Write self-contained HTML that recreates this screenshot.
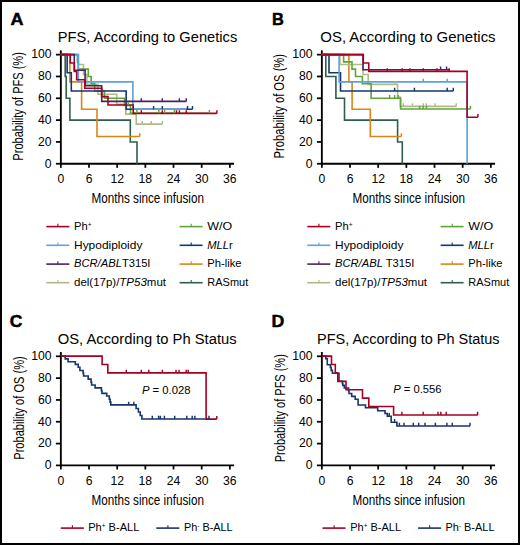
<!DOCTYPE html>
<html><head><meta charset="utf-8"><style>
html,body{margin:0;padding:0;background:#fff;}
svg{display:block;}
text{font-family:"Liberation Sans", sans-serif;}
</style></head><body>
<svg width="520" height="545" viewBox="0 0 520 545">
<rect x="1" y="1" width="518" height="543" fill="#fff" stroke="#000" stroke-width="2"/><text x="10.4" y="25.05" font-size="17.2" text-anchor="start" font-weight="bold" font-style="normal" fill="#000" textLength="13.0" lengthAdjust="spacingAndGlyphs" stroke="#000" stroke-width="0.5">A</text><text x="271.9" y="24.75" font-size="17.2" text-anchor="start" font-weight="bold" font-style="normal" fill="#000" textLength="11.9" lengthAdjust="spacingAndGlyphs" stroke="#000" stroke-width="0.5">B</text><text x="9.8" y="327.1" font-size="17.2" text-anchor="start" font-weight="bold" font-style="normal" fill="#000" textLength="12.6" lengthAdjust="spacingAndGlyphs" stroke="#000" stroke-width="0.5">C</text><text x="271.6" y="326.85" font-size="17.2" text-anchor="start" font-weight="bold" font-style="normal" fill="#000" textLength="12.8" lengthAdjust="spacingAndGlyphs" stroke="#000" stroke-width="0.5">D</text><text x="57.8" y="41.85" font-size="14.9" text-anchor="start" font-weight="normal" font-style="normal" fill="#000" textLength="179.5" lengthAdjust="spacingAndGlyphs" >PFS, According to Genetics</text><text x="320.3" y="41.75" font-size="14.9" text-anchor="start" font-weight="normal" font-style="normal" fill="#000" textLength="175.3" lengthAdjust="spacingAndGlyphs" >OS, According to Genetics</text><text x="57.8" y="344.0" font-size="14.9" text-anchor="start" font-weight="normal" font-style="normal" fill="#000" textLength="178.8" lengthAdjust="spacingAndGlyphs" >OS, According to Ph Status</text><text x="317.0" y="344.0" font-size="14.9" text-anchor="start" font-weight="normal" font-style="normal" fill="#000" textLength="182.6" lengthAdjust="spacingAndGlyphs" >PFS, According to Ph Status</text><path d="M60.85 50.35V164.65" stroke="#000" stroke-width="1.85" fill="none"/><path d="M59.95 163.75H234.05" stroke="#000" stroke-width="1.85" fill="none"/><path d="M55.95 163.75H60.85" stroke="#000" stroke-width="1.75"/><path d="M55.95 141.93H60.85" stroke="#000" stroke-width="1.75"/><path d="M55.95 120.11H60.85" stroke="#000" stroke-width="1.75"/><path d="M55.95 98.29H60.85" stroke="#000" stroke-width="1.75"/><path d="M55.95 76.47H60.85" stroke="#000" stroke-width="1.75"/><path d="M55.95 54.65H60.85" stroke="#000" stroke-width="1.75"/><path d="M60.85 163.75V167.85" stroke="#000" stroke-width="1.75"/><path d="M89.02 163.75V167.85" stroke="#000" stroke-width="1.75"/><path d="M117.18 163.75V167.85" stroke="#000" stroke-width="1.75"/><path d="M145.35 163.75V167.85" stroke="#000" stroke-width="1.75"/><path d="M173.52 163.75V167.85" stroke="#000" stroke-width="1.75"/><path d="M201.68 163.75V167.85" stroke="#000" stroke-width="1.75"/><path d="M229.85 163.75V167.85" stroke="#000" stroke-width="1.75"/><text x="51.650000000000006" y="167.55" font-size="12.2" text-anchor="end" font-weight="normal" font-style="normal" fill="#000" >0</text><text x="51.650000000000006" y="145.73" font-size="12.2" text-anchor="end" font-weight="normal" font-style="normal" fill="#000" >20</text><text x="51.650000000000006" y="123.91" font-size="12.2" text-anchor="end" font-weight="normal" font-style="normal" fill="#000" >40</text><text x="51.650000000000006" y="102.09" font-size="12.2" text-anchor="end" font-weight="normal" font-style="normal" fill="#000" >60</text><text x="51.650000000000006" y="80.27" font-size="12.2" text-anchor="end" font-weight="normal" font-style="normal" fill="#000" >80</text><text x="51.650000000000006" y="58.45" font-size="12.2" text-anchor="end" font-weight="normal" font-style="normal" fill="#000" >100</text><text x="60.85" y="183.35" font-size="12.2" text-anchor="middle" font-weight="normal" font-style="normal" fill="#000" >0</text><text x="89.02" y="183.35" font-size="12.2" text-anchor="middle" font-weight="normal" font-style="normal" fill="#000" >6</text><text x="117.18" y="183.35" font-size="12.2" text-anchor="middle" font-weight="normal" font-style="normal" fill="#000" >12</text><text x="145.35" y="183.35" font-size="12.2" text-anchor="middle" font-weight="normal" font-style="normal" fill="#000" >18</text><text x="173.52" y="183.35" font-size="12.2" text-anchor="middle" font-weight="normal" font-style="normal" fill="#000" >24</text><text x="201.68" y="183.35" font-size="12.2" text-anchor="middle" font-weight="normal" font-style="normal" fill="#000" >30</text><text x="229.85" y="183.35" font-size="12.2" text-anchor="middle" font-weight="normal" font-style="normal" fill="#000" >36</text><text x="91.45" y="203.25" font-size="14.5" text-anchor="start" font-weight="normal" font-style="normal" fill="#000" textLength="112.5" lengthAdjust="spacingAndGlyphs" >Months since infusion</text><path d="M321.85 50.35V164.65" stroke="#000" stroke-width="1.85" fill="none"/><path d="M320.95 163.75H495.05" stroke="#000" stroke-width="1.85" fill="none"/><path d="M316.95 163.75H321.85" stroke="#000" stroke-width="1.75"/><path d="M316.95 141.93H321.85" stroke="#000" stroke-width="1.75"/><path d="M316.95 120.11H321.85" stroke="#000" stroke-width="1.75"/><path d="M316.95 98.29H321.85" stroke="#000" stroke-width="1.75"/><path d="M316.95 76.47H321.85" stroke="#000" stroke-width="1.75"/><path d="M316.95 54.65H321.85" stroke="#000" stroke-width="1.75"/><path d="M321.85 163.75V167.85" stroke="#000" stroke-width="1.75"/><path d="M350.02 163.75V167.85" stroke="#000" stroke-width="1.75"/><path d="M378.18 163.75V167.85" stroke="#000" stroke-width="1.75"/><path d="M406.35 163.75V167.85" stroke="#000" stroke-width="1.75"/><path d="M434.52 163.75V167.85" stroke="#000" stroke-width="1.75"/><path d="M462.68 163.75V167.85" stroke="#000" stroke-width="1.75"/><path d="M490.85 163.75V167.85" stroke="#000" stroke-width="1.75"/><text x="312.65000000000003" y="167.55" font-size="12.2" text-anchor="end" font-weight="normal" font-style="normal" fill="#000" >0</text><text x="312.65000000000003" y="145.73" font-size="12.2" text-anchor="end" font-weight="normal" font-style="normal" fill="#000" >20</text><text x="312.65000000000003" y="123.91" font-size="12.2" text-anchor="end" font-weight="normal" font-style="normal" fill="#000" >40</text><text x="312.65000000000003" y="102.09" font-size="12.2" text-anchor="end" font-weight="normal" font-style="normal" fill="#000" >60</text><text x="312.65000000000003" y="80.27" font-size="12.2" text-anchor="end" font-weight="normal" font-style="normal" fill="#000" >80</text><text x="312.65000000000003" y="58.45" font-size="12.2" text-anchor="end" font-weight="normal" font-style="normal" fill="#000" >100</text><text x="321.85" y="183.35" font-size="12.2" text-anchor="middle" font-weight="normal" font-style="normal" fill="#000" >0</text><text x="350.02" y="183.35" font-size="12.2" text-anchor="middle" font-weight="normal" font-style="normal" fill="#000" >6</text><text x="378.18" y="183.35" font-size="12.2" text-anchor="middle" font-weight="normal" font-style="normal" fill="#000" >12</text><text x="406.35" y="183.35" font-size="12.2" text-anchor="middle" font-weight="normal" font-style="normal" fill="#000" >18</text><text x="434.52" y="183.35" font-size="12.2" text-anchor="middle" font-weight="normal" font-style="normal" fill="#000" >24</text><text x="462.68" y="183.35" font-size="12.2" text-anchor="middle" font-weight="normal" font-style="normal" fill="#000" >30</text><text x="490.85" y="183.35" font-size="12.2" text-anchor="middle" font-weight="normal" font-style="normal" fill="#000" >36</text><text x="352.45000000000005" y="203.25" font-size="14.5" text-anchor="start" font-weight="normal" font-style="normal" fill="#000" textLength="112.5" lengthAdjust="spacingAndGlyphs" >Months since infusion</text><path d="M60.85 352.00V466.30" stroke="#000" stroke-width="1.85" fill="none"/><path d="M59.95 465.40H234.05" stroke="#000" stroke-width="1.85" fill="none"/><path d="M55.95 465.40H60.85" stroke="#000" stroke-width="1.75"/><path d="M55.95 443.58H60.85" stroke="#000" stroke-width="1.75"/><path d="M55.95 421.76H60.85" stroke="#000" stroke-width="1.75"/><path d="M55.95 399.94H60.85" stroke="#000" stroke-width="1.75"/><path d="M55.95 378.12H60.85" stroke="#000" stroke-width="1.75"/><path d="M55.95 356.30H60.85" stroke="#000" stroke-width="1.75"/><path d="M60.85 465.40V469.50" stroke="#000" stroke-width="1.75"/><path d="M89.02 465.40V469.50" stroke="#000" stroke-width="1.75"/><path d="M117.18 465.40V469.50" stroke="#000" stroke-width="1.75"/><path d="M145.35 465.40V469.50" stroke="#000" stroke-width="1.75"/><path d="M173.52 465.40V469.50" stroke="#000" stroke-width="1.75"/><path d="M201.68 465.40V469.50" stroke="#000" stroke-width="1.75"/><path d="M229.85 465.40V469.50" stroke="#000" stroke-width="1.75"/><text x="51.650000000000006" y="469.20" font-size="12.2" text-anchor="end" font-weight="normal" font-style="normal" fill="#000" >0</text><text x="51.650000000000006" y="447.38" font-size="12.2" text-anchor="end" font-weight="normal" font-style="normal" fill="#000" >20</text><text x="51.650000000000006" y="425.56" font-size="12.2" text-anchor="end" font-weight="normal" font-style="normal" fill="#000" >40</text><text x="51.650000000000006" y="403.74" font-size="12.2" text-anchor="end" font-weight="normal" font-style="normal" fill="#000" >60</text><text x="51.650000000000006" y="381.92" font-size="12.2" text-anchor="end" font-weight="normal" font-style="normal" fill="#000" >80</text><text x="51.650000000000006" y="360.10" font-size="12.2" text-anchor="end" font-weight="normal" font-style="normal" fill="#000" >100</text><text x="60.85" y="485.0" font-size="12.2" text-anchor="middle" font-weight="normal" font-style="normal" fill="#000" >0</text><text x="89.02" y="485.0" font-size="12.2" text-anchor="middle" font-weight="normal" font-style="normal" fill="#000" >6</text><text x="117.18" y="485.0" font-size="12.2" text-anchor="middle" font-weight="normal" font-style="normal" fill="#000" >12</text><text x="145.35" y="485.0" font-size="12.2" text-anchor="middle" font-weight="normal" font-style="normal" fill="#000" >18</text><text x="173.52" y="485.0" font-size="12.2" text-anchor="middle" font-weight="normal" font-style="normal" fill="#000" >24</text><text x="201.68" y="485.0" font-size="12.2" text-anchor="middle" font-weight="normal" font-style="normal" fill="#000" >30</text><text x="229.85" y="485.0" font-size="12.2" text-anchor="middle" font-weight="normal" font-style="normal" fill="#000" >36</text><text x="91.45" y="504.9" font-size="14.5" text-anchor="start" font-weight="normal" font-style="normal" fill="#000" textLength="112.5" lengthAdjust="spacingAndGlyphs" >Months since infusion</text><path d="M321.85 352.00V466.30" stroke="#000" stroke-width="1.85" fill="none"/><path d="M320.95 465.40H495.05" stroke="#000" stroke-width="1.85" fill="none"/><path d="M316.95 465.40H321.85" stroke="#000" stroke-width="1.75"/><path d="M316.95 443.58H321.85" stroke="#000" stroke-width="1.75"/><path d="M316.95 421.76H321.85" stroke="#000" stroke-width="1.75"/><path d="M316.95 399.94H321.85" stroke="#000" stroke-width="1.75"/><path d="M316.95 378.12H321.85" stroke="#000" stroke-width="1.75"/><path d="M316.95 356.30H321.85" stroke="#000" stroke-width="1.75"/><path d="M321.85 465.40V469.50" stroke="#000" stroke-width="1.75"/><path d="M350.02 465.40V469.50" stroke="#000" stroke-width="1.75"/><path d="M378.18 465.40V469.50" stroke="#000" stroke-width="1.75"/><path d="M406.35 465.40V469.50" stroke="#000" stroke-width="1.75"/><path d="M434.52 465.40V469.50" stroke="#000" stroke-width="1.75"/><path d="M462.68 465.40V469.50" stroke="#000" stroke-width="1.75"/><path d="M490.85 465.40V469.50" stroke="#000" stroke-width="1.75"/><text x="312.65000000000003" y="469.20" font-size="12.2" text-anchor="end" font-weight="normal" font-style="normal" fill="#000" >0</text><text x="312.65000000000003" y="447.38" font-size="12.2" text-anchor="end" font-weight="normal" font-style="normal" fill="#000" >20</text><text x="312.65000000000003" y="425.56" font-size="12.2" text-anchor="end" font-weight="normal" font-style="normal" fill="#000" >40</text><text x="312.65000000000003" y="403.74" font-size="12.2" text-anchor="end" font-weight="normal" font-style="normal" fill="#000" >60</text><text x="312.65000000000003" y="381.92" font-size="12.2" text-anchor="end" font-weight="normal" font-style="normal" fill="#000" >80</text><text x="312.65000000000003" y="360.10" font-size="12.2" text-anchor="end" font-weight="normal" font-style="normal" fill="#000" >100</text><text x="321.85" y="485.0" font-size="12.2" text-anchor="middle" font-weight="normal" font-style="normal" fill="#000" >0</text><text x="350.02" y="485.0" font-size="12.2" text-anchor="middle" font-weight="normal" font-style="normal" fill="#000" >6</text><text x="378.18" y="485.0" font-size="12.2" text-anchor="middle" font-weight="normal" font-style="normal" fill="#000" >12</text><text x="406.35" y="485.0" font-size="12.2" text-anchor="middle" font-weight="normal" font-style="normal" fill="#000" >18</text><text x="434.52" y="485.0" font-size="12.2" text-anchor="middle" font-weight="normal" font-style="normal" fill="#000" >24</text><text x="462.68" y="485.0" font-size="12.2" text-anchor="middle" font-weight="normal" font-style="normal" fill="#000" >30</text><text x="490.85" y="485.0" font-size="12.2" text-anchor="middle" font-weight="normal" font-style="normal" fill="#000" >36</text><text x="352.45000000000005" y="504.9" font-size="14.5" text-anchor="start" font-weight="normal" font-style="normal" fill="#000" textLength="112.5" lengthAdjust="spacingAndGlyphs" >Months since infusion</text><text x="0" y="0" font-size="14.6" text-anchor="middle" textLength="108.5" lengthAdjust="spacingAndGlyphs" transform="translate(22.9 106.4) rotate(-90)">Probability of PFS (%)</text><text x="0" y="0" font-size="14.6" text-anchor="middle" textLength="104.5" lengthAdjust="spacingAndGlyphs" transform="translate(284.0 106.2) rotate(-90)">Probability of OS (%)</text><text x="0" y="0" font-size="14.6" text-anchor="middle" textLength="103.5" lengthAdjust="spacingAndGlyphs" transform="translate(23.5 408.0) rotate(-90)">Probability of OS (%)</text><text x="0" y="0" font-size="14.6" text-anchor="middle" textLength="108.0" lengthAdjust="spacingAndGlyphs" transform="translate(284.5 408.2) rotate(-90)">Probability of PFS (%)</text><path d="M46.30 226.60h23" stroke="#a50022" stroke-width="1.6"/><path d="M57.90 226.60v-2.8" stroke="#a50022" stroke-width="1.1"/><text x="74.0" y="229.90" font-size="11.2">Ph<tspan font-size="6.5" dy="-3.3">+</tspan></text><path d="M46.30 245.30h23" stroke="#5aa3dc" stroke-width="1.6"/><path d="M57.90 245.30v-2.8" stroke="#5aa3dc" stroke-width="1.1"/><text x="74.0" y="248.60" font-size="11.2" textLength="68.4" lengthAdjust="spacingAndGlyphs">Hypodiploidy</text><path d="M46.30 264.10h23" stroke="#4d1f64" stroke-width="1.6"/><path d="M57.90 264.10v-2.8" stroke="#4d1f64" stroke-width="1.1"/><text x="74.0" y="267.40" font-size="11.2"><tspan font-style="italic">BCR/ABL</tspan>T315I</text><path d="M46.30 282.70h23" stroke="#aebb86" stroke-width="1.6"/><path d="M57.90 282.70v-2.8" stroke="#aebb86" stroke-width="1.1"/><text x="74.0" y="286.00" font-size="11.2" textLength="92.0" lengthAdjust="spacingAndGlyphs">del(17p)/<tspan font-style="italic">TP53</tspan>mut</text><path d="M179.60 226.60h23" stroke="#5ea53a" stroke-width="1.6"/><path d="M191.20 226.60v-2.8" stroke="#5ea53a" stroke-width="1.1"/><text x="207.3" y="229.90" font-size="11.2" textLength="24.9" lengthAdjust="spacingAndGlyphs">W/O</text><path d="M179.60 245.30h23" stroke="#17356e" stroke-width="1.6"/><path d="M191.20 245.30v-2.8" stroke="#17356e" stroke-width="1.1"/><text x="207.3" y="248.60" font-size="11.2"><tspan font-style="italic">MLL</tspan>r</text><path d="M179.60 264.10h23" stroke="#db8614" stroke-width="1.6"/><path d="M191.20 264.10v-2.8" stroke="#db8614" stroke-width="1.1"/><text x="207.3" y="267.40" font-size="11.2">Ph-like</text><path d="M179.60 282.70h23" stroke="#2f5f49" stroke-width="1.6"/><path d="M191.20 282.70v-2.8" stroke="#2f5f49" stroke-width="1.1"/><text x="207.3" y="286.00" font-size="11.2" textLength="40.9" lengthAdjust="spacingAndGlyphs">RASmut</text><path d="M307.30 226.60h23" stroke="#a50022" stroke-width="1.6"/><path d="M318.90 226.60v-2.8" stroke="#a50022" stroke-width="1.1"/><text x="335.0" y="229.90" font-size="11.2">Ph<tspan font-size="6.5" dy="-3.3">+</tspan></text><path d="M307.30 245.30h23" stroke="#5aa3dc" stroke-width="1.6"/><path d="M318.90 245.30v-2.8" stroke="#5aa3dc" stroke-width="1.1"/><text x="335.0" y="248.60" font-size="11.2" textLength="68.4" lengthAdjust="spacingAndGlyphs">Hypodiploidy</text><path d="M307.30 264.10h23" stroke="#4d1f64" stroke-width="1.6"/><path d="M318.90 264.10v-2.8" stroke="#4d1f64" stroke-width="1.1"/><text x="335.0" y="267.40" font-size="11.2"><tspan font-style="italic">BCR/ABL</tspan> T315I</text><path d="M307.30 282.70h23" stroke="#aebb86" stroke-width="1.6"/><path d="M318.90 282.70v-2.8" stroke="#aebb86" stroke-width="1.1"/><text x="335.0" y="286.00" font-size="11.2" textLength="92.0" lengthAdjust="spacingAndGlyphs">del(17p)/<tspan font-style="italic">TP53</tspan>mut</text><path d="M440.60 226.60h23" stroke="#5ea53a" stroke-width="1.6"/><path d="M452.20 226.60v-2.8" stroke="#5ea53a" stroke-width="1.1"/><text x="468.3" y="229.90" font-size="11.2" textLength="24.9" lengthAdjust="spacingAndGlyphs">W/O</text><path d="M440.60 245.30h23" stroke="#17356e" stroke-width="1.6"/><path d="M452.20 245.30v-2.8" stroke="#17356e" stroke-width="1.1"/><text x="468.3" y="248.60" font-size="11.2"><tspan font-style="italic">MLL</tspan>r</text><path d="M440.60 264.10h23" stroke="#db8614" stroke-width="1.6"/><path d="M452.20 264.10v-2.8" stroke="#db8614" stroke-width="1.1"/><text x="468.3" y="267.40" font-size="11.2">Ph-like</text><path d="M440.60 282.70h23" stroke="#2f5f49" stroke-width="1.6"/><path d="M452.20 282.70v-2.8" stroke="#2f5f49" stroke-width="1.1"/><text x="468.3" y="286.00" font-size="11.2" textLength="40.9" lengthAdjust="spacingAndGlyphs">RASmut</text><path d="M60.80 528.10h23" stroke="#a50022" stroke-width="1.6"/><path d="M72.40 528.10v-2.8" stroke="#a50022" stroke-width="1.1"/><text x="88.2" y="531.30" font-size="11.2" textLength="51.2" lengthAdjust="spacingAndGlyphs">Ph<tspan font-size="6.5" dy="-3.3">+</tspan><tspan dy="3.3"> B-ALL</tspan></text><path d="M156.30 528.10h23" stroke="#17356e" stroke-width="1.6"/><path d="M167.90 528.10v-2.8" stroke="#17356e" stroke-width="1.1"/><text x="184.0" y="531.30" font-size="11.2" textLength="48.6" lengthAdjust="spacingAndGlyphs">Ph<tspan font-size="6.5" dy="-3.6">-</tspan><tspan dy="3.6"> B-ALL</tspan></text><path d="M322.50 528.10h23" stroke="#a50022" stroke-width="1.6"/><path d="M334.10 528.10v-2.8" stroke="#a50022" stroke-width="1.1"/><text x="350.3" y="531.30" font-size="11.2" textLength="50.7" lengthAdjust="spacingAndGlyphs">Ph<tspan font-size="6.5" dy="-3.3">+</tspan><tspan dy="3.3"> B-ALL</tspan></text><path d="M418.10 528.10h23" stroke="#17356e" stroke-width="1.6"/><path d="M429.70 528.10v-2.8" stroke="#17356e" stroke-width="1.1"/><text x="445.5" y="531.30" font-size="11.2" textLength="49.0" lengthAdjust="spacingAndGlyphs">Ph<tspan font-size="6.5" dy="-3.6">-</tspan><tspan dy="3.6"> B-ALL</tspan></text><text x="141.9" y="393.8" font-size="11.6" textLength="48.6" lengthAdjust="spacingAndGlyphs"><tspan font-style="italic">P</tspan> = 0.028</text><text x="393.2" y="392.9" font-size="11.6" textLength="48.4" lengthAdjust="spacingAndGlyphs"><tspan font-style="italic">P</tspan> = 0.556</text><path d="M60.85 54.60H65.20V76.44H66.20V98.28H69.90V120.12H130.30V141.96H137.00V163.80" fill="none" stroke="#2f5f49" stroke-width="1.6" stroke-linejoin="miter"/><path d="M60.85 54.60H69.90V81.90H81.60V109.20H97.00V136.50H139.80" fill="none" stroke="#db8614" stroke-width="1.6" stroke-linejoin="miter"/><path d="M60.85 54.60H78.50V64.53H83.50V74.45H86.90V84.38H97.90V94.31H116.70V104.23H125.80V114.17H136.20V124.09H162.30" fill="none" stroke="#aebb86" stroke-width="1.6" stroke-linejoin="miter"/><path d="M60.85 54.60H77.40V61.88H78.30V69.16H88.30V76.44H91.20V83.72H94.70V91.00H104.40V98.28H124.50V105.56H130.50V113.30H209.40" fill="none" stroke="#5ea53a" stroke-width="1.6" stroke-linejoin="miter"/><path d="M60.85 54.60H67.15V72.80H71.30V91.00H126.15V109.20H192.50" fill="none" stroke="#17356e" stroke-width="1.6" stroke-linejoin="miter"/><path d="M60.85 54.60H78.30V81.90H132.90V109.20H186.25" fill="none" stroke="#5aa3dc" stroke-width="1.6" stroke-linejoin="miter"/><path d="M60.85 54.60H74.30V70.20H85.10V85.80H101.70V101.40H186.25" fill="none" stroke="#4d1f64" stroke-width="1.6" stroke-linejoin="miter"/><path d="M60.85 54.60H70.30V63.00H74.30V71.39H76.70V79.80H84.80V88.20H101.70V96.60H108.00V105.00H133.20V113.40H216.90" fill="none" stroke="#a50022" stroke-width="1.6" stroke-linejoin="miter"/><path d="M321.85 54.60H325.80V76.44H335.90V98.28H344.50V120.12H397.60V141.96H402.30V163.80" fill="none" stroke="#2f5f49" stroke-width="1.6" stroke-linejoin="miter"/><path d="M321.85 54.60H348.90V81.90H352.10V109.20H370.30V136.50H401.40" fill="none" stroke="#db8614" stroke-width="1.6" stroke-linejoin="miter"/><path d="M321.85 54.60H339.90V64.53H363.00V74.45H368.20V84.38H397.60V97.20H400.40V106.40H456.20" fill="none" stroke="#aebb86" stroke-width="1.6" stroke-linejoin="miter"/><path d="M321.85 54.60H343.60V61.88H352.00V69.16H355.50V76.44H362.40V83.72H371.10V98.28H400.60V109.00H470.50" fill="none" stroke="#5ea53a" stroke-width="1.6" stroke-linejoin="miter"/><path d="M321.85 54.60H329.00V72.80H340.50V91.00H453.30" fill="none" stroke="#17356e" stroke-width="1.6" stroke-linejoin="miter"/><path d="M321.85 54.60H339.10V81.90H467.10V163.80" fill="none" stroke="#5aa3dc" stroke-width="1.6" stroke-linejoin="miter"/><path d="M321.85 54.60H363.00V69.70H449.20" fill="none" stroke="#4d1f64" stroke-width="1.6" stroke-linejoin="miter"/><path d="M321.85 54.60H363.30V63.00H368.75V71.39H467.10V117.20H477.90" fill="none" stroke="#a50022" stroke-width="1.6" stroke-linejoin="miter"/><path d="M60.85 356.10H65.20V358.90H68.10V361.80H75.30V364.40H78.20V367.30H79.90V370.50H83.10V373.20H83.60V376.06H88.20V379.10H91.06V382.10H91.60V385.00H95.10V387.90H101.40V390.70H102.00V393.40H106.70V396.06H109.30V399.20H110.10V402.10H110.80V404.90H136.10V408.50H138.40V412.00H140.20V415.50H141.90V419.00H209.00" fill="none" stroke="#17356e" stroke-width="1.6" stroke-linejoin="miter"/><path d="M60.85 356.10H102.10V364.51H107.80V372.91H206.10V419.10H216.80" fill="none" stroke="#a50022" stroke-width="1.6" stroke-linejoin="miter"/><path d="M321.85 356.10H325.80V358.60H327.30V364.70H330.40V367.50H331.20V370.40H332.40V373.30H339.00V381.30H342.40V383.60H342.80V385.40H344.30V388.00H348.60V390.60H349.00V393.50H351.70V396.40H355.20V399.20H358.10V405.00H365.50V407.70H377.70V410.80H385.00V413.50H387.30V416.20H391.20V422.30H396.90V426.00H470.00" fill="none" stroke="#17356e" stroke-width="1.6" stroke-linejoin="miter"/><path d="M321.85 356.10H331.50V364.51H335.30V372.91H337.80V381.33H346.00V389.73H362.50V398.14H368.80V406.54H393.60V414.96H477.80" fill="none" stroke="#a50022" stroke-width="1.6" stroke-linejoin="miter"/><path d="M139.80 136.50V133.30" stroke="#db8614" stroke-width="1.45" fill="none"/><path d="M142.30 124.09V120.89M151.30 124.09V120.89M162.30 124.09V120.89" stroke="#aebb86" stroke-width="1.45" fill="none"/><path d="M128.20 105.56V102.36M136.90 113.30V110.10M158.80 113.30V110.10M164.60 113.30V110.10M174.40 113.30V110.10M209.40 113.30V110.10" stroke="#5ea53a" stroke-width="1.45" fill="none"/><path d="M153.60 109.20V106.00M162.30 109.20V106.00M187.50 109.20V106.00M192.50 109.20V106.00" stroke="#17356e" stroke-width="1.45" fill="none"/><path d="M141.30 101.40V98.20M162.30 101.40V98.20M179.40 101.40V98.20M186.25 101.40V98.20" stroke="#4d1f64" stroke-width="1.45" fill="none"/><path d="M141.30 113.40V110.20M162.30 113.40V110.20M176.50 113.40V110.20M179.40 113.40V110.20M186.25 113.40V110.20M216.90 113.40V110.20" stroke="#a50022" stroke-width="1.45" fill="none"/><path d="M401.40 136.50V133.30" stroke="#db8614" stroke-width="1.45" fill="none"/><path d="M394.60 84.38V81.18M403.40 106.40V103.20M412.40 106.40V103.20M423.30 106.40V103.20M426.30 106.40V103.20M435.10 106.40V103.20M456.20 106.40V103.20" stroke="#aebb86" stroke-width="1.45" fill="none"/><path d="M389.60 98.28V95.08M394.60 98.28V95.08M398.30 98.28V95.08M419.60 109.00V105.80M423.10 109.00V105.80M426.50 109.00V105.80M470.50 109.00V105.80" stroke="#5ea53a" stroke-width="1.45" fill="none"/><path d="M394.60 91.00V87.80M414.40 91.00V87.80M447.20 91.00V87.80M453.30 91.00V87.80" stroke="#17356e" stroke-width="1.45" fill="none"/><path d="M423.30 81.90V78.70M447.20 81.90V78.70" stroke="#5aa3dc" stroke-width="1.45" fill="none"/><path d="M440.60 69.70V66.50M446.60 69.70V66.50" stroke="#4d1f64" stroke-width="1.45" fill="none"/><path d="M387.30 71.39V68.19M402.20 71.39V68.19M409.90 71.39V68.19M423.30 71.39V68.19M437.00 71.39V68.19M449.20 71.39V68.19M477.90 117.20V114.00" stroke="#a50022" stroke-width="1.45" fill="none"/><path d="M128.65 404.90V401.70M133.80 404.90V401.70M152.30 419.00V415.80M158.60 419.00V415.80M160.40 419.00V415.80M164.40 419.00V415.80M174.70 419.00V415.80M186.80 419.00V415.80M192.20 419.00V415.80M194.90 419.00V415.80M209.00 419.00V415.80" stroke="#17356e" stroke-width="1.45" fill="none"/><path d="M126.30 372.91V369.71M141.30 372.91V369.71M148.80 372.91V369.71M162.40 372.91V369.71M176.00 372.91V369.71M179.00 372.91V369.71M186.20 372.91V369.71M188.20 372.91V369.71M216.80 419.10V415.90" stroke="#a50022" stroke-width="1.45" fill="none"/><path d="M389.20 416.20V413.00M394.60 422.30V419.10M399.40 426.00V422.80M404.00 426.00V422.80M413.30 426.00V422.80M418.70 426.00V422.80M425.00 426.00V422.80M435.40 426.00V422.80M446.90 426.00V422.80M452.30 426.00V422.80M470.00 426.00V422.80" stroke="#17356e" stroke-width="1.45" fill="none"/><path d="M401.90 414.96V411.76M423.20 414.96V411.76M438.00 414.96V411.76M440.80 414.96V411.76M446.20 414.96V411.76M477.60 414.96V411.76" stroke="#a50022" stroke-width="1.45" fill="none"/>
</svg>
</body></html>
